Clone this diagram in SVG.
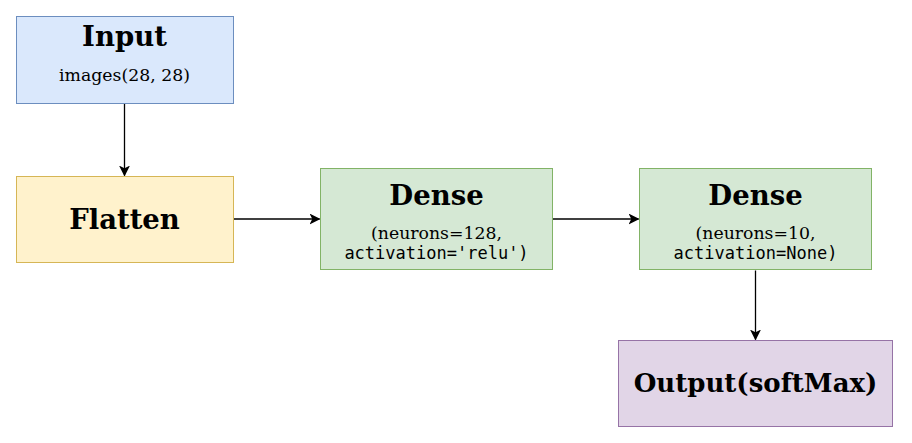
<svg xmlns="http://www.w3.org/2000/svg" width="912" height="443" viewBox="0 0 912 443">
<style>
.t{font-family:"DejaVu Serif",serif;font-weight:bold;font-size:27.5px;text-anchor:middle;fill:#000}
.o{font-size:26px}
.s{font-family:"DejaVu Serif",serif;font-size:17.3px;text-anchor:middle;fill:#000}
.m{font-family:"DejaVu Sans Mono",monospace;font-size:17px;text-anchor:middle;fill:#000}
.e{stroke:#000;stroke-width:1.3;fill:none;marker-end:url(#a)}
</style>
<defs>
<marker id="a" viewBox="0 0 11 11" refX="10" refY="5.5" markerWidth="11" markerHeight="11" markerUnits="userSpaceOnUse" orient="auto">
<path d="M0,0 L11,5.5 L0,11 L2.8,5.5 Z" fill="#000"/>
</marker>
</defs>
<rect width="912" height="443" fill="#fff"/>
<g id="connectors">
<path class="e" d="M124.5,103.5 V175.5"/>
<path class="e" d="M233.5,219 H319.5"/>
<path class="e" d="M552.5,219 H638.5"/>
<path class="e" d="M755.5,270.5 V339.5"/>
</g>
<g id="input">
<rect x="16.5" y="16.5" width="217" height="87" fill="#dae8fc" stroke="#6c8ebf"/>
<text class="t" x="124.5" y="46">Input</text>
<text class="s" x="124.5" y="81">images(28, 28)</text>
</g>
<g id="flatten">
<rect x="16.5" y="176.5" width="217" height="86" fill="#fff2cc" stroke="#d6b656"/>
<text class="t" x="124.5" y="229">Flatten</text>
</g>
<g id="dense1">
<rect x="320.5" y="168.5" width="232" height="101" fill="#d5e8d4" stroke="#82b366"/>
<text class="t" x="436.5" y="205">Dense</text>
<text class="s" x="436.5" y="239">(neurons=128,</text>
<text class="m" x="436.5" y="259">activation='relu')</text>
</g>
<g id="dense2">
<rect x="639.5" y="168.5" width="232" height="101" fill="#d5e8d4" stroke="#82b366"/>
<text class="t" x="755.5" y="205">Dense</text>
<text class="s" x="755.5" y="239">(neurons=10,</text>
<text class="m" x="755.5" y="259">activation=None)</text>
</g>
<g id="output">
<rect x="618.5" y="340.5" width="274" height="86" fill="#e1d5e7" stroke="#9673a6"/>
<text class="t o" x="755.5" y="392">Output(softMax)</text>
</g>
</svg>
